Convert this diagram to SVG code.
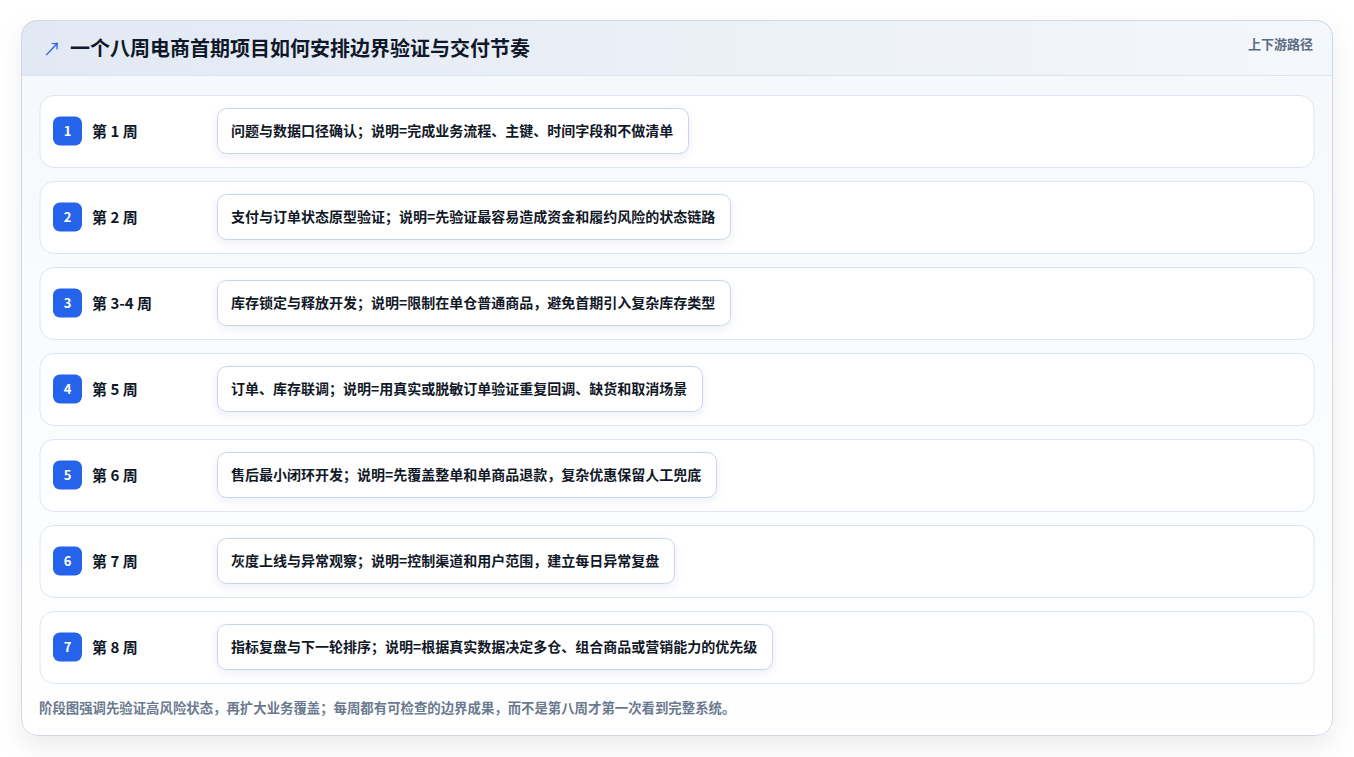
<svg xmlns="http://www.w3.org/2000/svg" width="1354" height="757" viewBox="0 0 1354 757">
<defs>
<linearGradient id="hdr" x1="0" y1="0" x2="1" y2="0">
<stop offset="0" stop-color="#e2e9f3"/>
<stop offset="1" stop-color="#f4f7fb"/>
</linearGradient>
<linearGradient id="body" x1="0" y1="0" x2="0" y2="1">
<stop offset="0" stop-color="#f5f8fc"/>
<stop offset="1" stop-color="#ffffff"/>
</linearGradient>
<filter id="cardShadow" x="-10%" y="-10%" width="120%" height="125%">
<feDropShadow dx="0" dy="10" stdDeviation="12" flood-color="#0f172a" flood-opacity="0.08"/>
</filter>
<filter id="boxShadow" x="-10%" y="-30%" width="120%" height="180%">
<feDropShadow dx="0" dy="3" stdDeviation="4" flood-color="#1e3a8a" flood-opacity="0.08"/>
</filter>
<clipPath id="cardClip"><rect x="21" y="20" width="1312" height="716" rx="16"/></clipPath>
</defs>
<style>
text{font-family:"Noto Sans CJK SC","Noto Sans",sans-serif;}
.row{fill:#ffffff;stroke:#dce6f3;stroke-width:1;}
.badge{fill:#2563eb;}
.num{fill:#ffffff;font-size:13px;font-weight:700;text-anchor:middle;}
.wk{fill:#0f172a;font-size:15px;font-weight:700;}
.box{fill:#ffffff;stroke:#c5d6ee;stroke-width:1;}
.desc{fill:#111827;font-size:14px;font-weight:700;}
</style>
<rect x="0" y="0" width="1354" height="757" fill="#ffffff"/>
<g id="card">
<rect x="21" y="20" width="1312" height="716" rx="16" fill="url(#body)" filter="url(#cardShadow)"/>
<g clip-path="url(#cardClip)">
<rect x="21" y="20" width="1312" height="55" fill="url(#hdr)"/>
<line x1="21" y1="75.5" x2="1333" y2="75.5" stroke="#dbe4f1" stroke-width="1"/>
</g>
<rect x="21.5" y="20.5" width="1311" height="715" rx="16" fill="none" stroke="#cfd8e6" stroke-width="1"/>
</g>
<g id="header">
<text x="43" y="56" font-size="18" fill="#2563eb" font-family="DejaVu Sans, sans-serif">↗</text>
<text x="70" y="56" font-size="20" font-weight="700" fill="#0f172a">一个八周电商首期项目如何安排边界验证与交付节奏</text>
<text x="1313" y="49" font-size="13" font-weight="600" fill="#5b6b82" text-anchor="end">上下游路径</text>
</g>
<g id="connectors"></g>
<g id="row1" transform="translate(0,95)">
<rect class="row" x="40" y="0.5" width="1274" height="72" rx="14"/>
<rect class="badge" x="53" y="21.5" width="29" height="29" rx="7"/>
<text class="num" x="67.5" y="40.5">1</text>
<text class="wk" x="92" y="41.5">第 1 周</text>
<rect class="box" x="217.5" y="13.5" width="471" height="45" rx="9" filter="url(#boxShadow)"/>
<text class="desc" x="231" y="41">问题与数据口径确认；说明=完成业务流程、主键、时间字段和不做清单</text>
</g>
<g id="row2" transform="translate(0,181)">
<rect class="row" x="40" y="0.5" width="1274" height="72" rx="14"/>
<rect class="badge" x="53" y="21.5" width="29" height="29" rx="7"/>
<text class="num" x="67.5" y="40.5">2</text>
<text class="wk" x="92" y="41.5">第 2 周</text>
<rect class="box" x="217.5" y="13.5" width="513" height="45" rx="9" filter="url(#boxShadow)"/>
<text class="desc" x="231" y="41">支付与订单状态原型验证；说明=先验证最容易造成资金和履约风险的状态链路</text>
</g>
<g id="row3" transform="translate(0,267)">
<rect class="row" x="40" y="0.5" width="1274" height="72" rx="14"/>
<rect class="badge" x="53" y="21.5" width="29" height="29" rx="7"/>
<text class="num" x="67.5" y="40.5">3</text>
<text class="wk" x="92" y="41.5">第 3-4 周</text>
<rect class="box" x="217.5" y="13.5" width="513" height="45" rx="9" filter="url(#boxShadow)"/>
<text class="desc" x="231" y="41">库存锁定与释放开发；说明=限制在单仓普通商品，避免首期引入复杂库存类型</text>
</g>
<g id="row4" transform="translate(0,353)">
<rect class="row" x="40" y="0.5" width="1274" height="72" rx="14"/>
<rect class="badge" x="53" y="21.5" width="29" height="29" rx="7"/>
<text class="num" x="67.5" y="40.5">4</text>
<text class="wk" x="92" y="41.5">第 5 周</text>
<rect class="box" x="217.5" y="13.5" width="485" height="45" rx="9" filter="url(#boxShadow)"/>
<text class="desc" x="231" y="41">订单、库存联调；说明=用真实或脱敏订单验证重复回调、缺货和取消场景</text>
</g>
<g id="row5" transform="translate(0,439)">
<rect class="row" x="40" y="0.5" width="1274" height="72" rx="14"/>
<rect class="badge" x="53" y="21.5" width="29" height="29" rx="7"/>
<text class="num" x="67.5" y="40.5">5</text>
<text class="wk" x="92" y="41.5">第 6 周</text>
<rect class="box" x="217.5" y="13.5" width="499" height="45" rx="9" filter="url(#boxShadow)"/>
<text class="desc" x="231" y="41">售后最小闭环开发；说明=先覆盖整单和单商品退款，复杂优惠保留人工兜底</text>
</g>
<g id="row6" transform="translate(0,525)">
<rect class="row" x="40" y="0.5" width="1274" height="72" rx="14"/>
<rect class="badge" x="53" y="21.5" width="29" height="29" rx="7"/>
<text class="num" x="67.5" y="40.5">6</text>
<text class="wk" x="92" y="41.5">第 7 周</text>
<rect class="box" x="217.5" y="13.5" width="457" height="45" rx="9" filter="url(#boxShadow)"/>
<text class="desc" x="231" y="41">灰度上线与异常观察；说明=控制渠道和用户范围，建立每日异常复盘</text>
</g>
<g id="row7" transform="translate(0,611)">
<rect class="row" x="40" y="0.5" width="1274" height="72" rx="14"/>
<rect class="badge" x="53" y="21.5" width="29" height="29" rx="7"/>
<text class="num" x="67.5" y="40.5">7</text>
<text class="wk" x="92" y="41.5">第 8 周</text>
<rect class="box" x="217.5" y="13.5" width="555" height="45" rx="9" filter="url(#boxShadow)"/>
<text class="desc" x="231" y="41">指标复盘与下一轮排序；说明=根据真实数据决定多仓、组合商品或营销能力的优先级</text>
</g>
<g id="footer">
<text x="39" y="713" font-size="13.4" font-weight="600" fill="#6b7a90">阶段图强调先验证高风险状态，再扩大业务覆盖；每周都有可检查的边界成果，而不是第八周才第一次看到完整系统。</text>
</g>
</svg>
